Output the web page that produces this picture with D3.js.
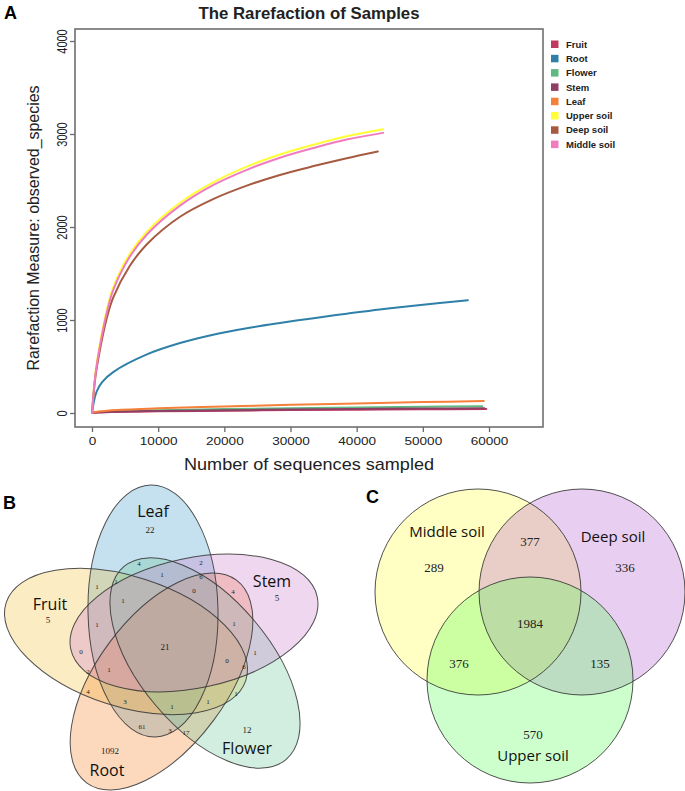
<!DOCTYPE html>
<html>
<head>
<meta charset="utf-8">
<style>
  body { margin: 0; background: #fff; }
  svg { display: block; }
  text { font-family: "Liberation Sans", Arial, sans-serif; fill: #222; }
  .curve { fill: none; stroke-width: 2px; stroke-linecap: round; }
  .tick line { stroke: #6a6a6a; stroke-width: 1.3px; }
  .frame { fill: none; stroke: #6e6e6e; stroke-width: 1.6px; }
  .set-name { font-family: "Open Sans", "Noto Sans", sans-serif; fill: #111; }
  .count { font-family: "Liberation Serif", "DejaVu Serif", serif; fill: #222; }
  .panel { font-weight: bold; font-size: 18px; fill: #000; }
</style>
</head>
<body>
<svg id="fig" width="685" height="791"></svg>
<script src="https://d3js.org/d3.v7.min.js"></script>
<script>
// ---------- panel A : rarefaction curves ----------
var sampleNames  = ["Fruit", "Root", "Flower", "Stem", "Leaf", "Upper soil", "Deep soil", "Middle soil"];
var sampleColors = ["#bf3a5f", "#2f80a8", "#5dba80", "#8f3f66", "#f5803a", "#ffff33", "#a65a40", "#f07cbf"];

// sequences sampled / observed species
var fruitDepth  = [0, 1000, 3000, 10000, 20000, 30000, 40000, 50000, 59600];
var fruitObs    = [0, 6, 11, 18, 25, 31, 36, 40, 44];
var rootDepth   = [0, 300, 700, 1500, 3200, 8300, 13300, 18300, 23400, 28400, 33500, 38500, 43500, 48600, 56800];
var rootObs     = [0, 130, 230, 330, 440, 630, 752, 842, 912, 968, 1020, 1068, 1114, 1154, 1212];
var flowerDepth = [0, 1000, 3000, 10000, 20000, 30000, 40000, 50000, 59000];
var flowerObs   = [0, 10, 18, 30, 42, 52, 60, 67, 72];
var stemDepth   = [0, 1000, 3000, 10000, 20000, 30000, 40000, 50000, 59300];
var stemObs     = [0, 8, 14, 22, 30, 37, 43, 48, 52];
var leafDepth   = [0, 1000, 3000, 10000, 20000, 30000, 40000, 50000, 59200];
var leafObs     = [0, 15, 30, 50, 70, 88, 103, 117, 129];
var upperDepth  = [0, 500, 1200, 2200, 3200, 5700, 8300, 13300, 18300, 23400, 28400, 33500, 38500, 44000];
var upperObs    = [0, 420, 750, 1100, 1350, 1710, 1950, 2260, 2480, 2650, 2780, 2885, 2975, 3050];
var deepDepth   = [0, 500, 1200, 2200, 3200, 5700, 8300, 13300, 18300, 23400, 28400, 33500, 38500, 43200];
var deepObs     = [0, 380, 680, 1010, 1240, 1580, 1815, 2110, 2300, 2445, 2560, 2655, 2740, 2812];
var middleDepth = [0, 500, 1200, 2200, 3200, 5700, 8300, 13300, 18300, 23400, 28400, 33500, 38500, 44000];
var middleObs   = [0, 400, 720, 1070, 1320, 1680, 1920, 2230, 2450, 2615, 2745, 2850, 2940, 3012];

var xTicks = [0, 10000, 20000, 30000, 40000, 50000, 60000];
var yTicks = [0, 1000, 2000, 3000, 4000];

// ---------- panel B : five-set venn ----------
var organNames  = ["Leaf", "Fruit", "Root", "Flower", "Stem"];
var organFills  = ["#3e98c6", "#f2c03a", "#f58023", "#69c698", "#cd7acd"];
// region counts (unique to each organ first, then shared regions)
var organCounts = [22, 5, 1092, 12, 5, 21, 4, 2, 1, 6, 1, 1, 0, 4, 1, 1, 1, 0, 0, 1, 6, 1, 2, 4, 3, 1, 1, 1, 61, 3, 17];

// ---------- panel C : three-set venn ----------
var soilNames  = ["Middle soil", "Deep soil", "Upper soil"];
var soilFills  = ["#ffff37", "#b25ccd", "#55ff55"];
// only Middle, only Deep, only Upper, Middle&Deep, Middle&Upper, Deep&Upper, all three
var soilCounts = [289, 336, 570, 377, 376, 135, 1984];

var svg = d3.select("#fig");

// ===== panel A =====
var frame = { left: 75, top: 29, right: 543, bottom: 427 };
var x = d3.scaleLinear().domain([0, 60000]).range([92, 489]);
var y = d3.scaleLinear().domain([0, 4000]).range([413, 41]);

svg.append("text").attr("class", "panel").attr("x", 4).attr("y", 19).text("A");
svg.append("text")
    .attr("x", (frame.left + frame.right) / 2).attr("y", 19)
    .attr("text-anchor", "middle")
    .style("font-size", "16.5px").style("font-weight", "bold")
    .attr("textLength", 221).attr("lengthAdjust", "spacingAndGlyphs")
    .text("The Rarefaction of Samples");

var series = [
    { depth: fruitDepth,  obs: fruitObs },
    { depth: rootDepth,   obs: rootObs },
    { depth: flowerDepth, obs: flowerObs },
    { depth: stemDepth,   obs: stemObs },
    { depth: leafDepth,   obs: leafObs },
    { depth: upperDepth,  obs: upperObs },
    { depth: deepDepth,   obs: deepObs },
    { depth: middleDepth, obs: middleObs }
];
series.forEach(function(s, i) { s.name = sampleNames[i]; s.color = sampleColors[i]; });

var line = d3.line()
    .x(function(d) { return x(d[0]); })
    .y(function(d) { return y(d[1]); })
    .curve(d3.curveCatmullRom.alpha(0.5));

svg.append("g").selectAll("path")
    .data(series)
    .join("path")
    .attr("class", "curve")
    .attr("stroke", function(d) { return d.color; })
    .attr("d", function(d) { return line(d3.zip(d.depth, d.obs)); });

svg.append("rect").attr("class", "frame")
    .attr("x", frame.left).attr("y", frame.top)
    .attr("width", frame.right - frame.left).attr("height", frame.bottom - frame.top);

var gx = svg.append("g")
    .attr("transform", "translate(0," + frame.bottom + ")")
    .call(d3.axisBottom(x).tickValues(xTicks).tickSize(5).tickPadding(4.5).tickFormat(d3.format("d")));
gx.attr("font-size", null).attr("font-family", null);
gx.select(".domain").remove();
gx.selectAll("text").style("font-size", "11.8px").attr("fill", "#222")
    .attr("transform", "scale(1.15,1)");

var gy = svg.append("g")
    .attr("transform", "translate(" + frame.left + ",0)")
    .call(d3.axisLeft(y).tickValues(yTicks).tickSize(5).tickFormat(d3.format("d")));
gy.attr("font-size", null).attr("font-family", null);
gy.select(".domain").remove();
gy.selectAll("text")
    .attr("x", 0).attr("y", -6.2).attr("dy", 0)
    .attr("text-anchor", "middle").attr("fill", "#222")
    .attr("transform", "rotate(-90) scale(1,1.3)")
    .style("font-size", "11px");

svg.append("text")
    .attr("x", (frame.left + frame.right) / 2).attr("y", 470)
    .attr("text-anchor", "middle").style("font-size", "17px")
    .attr("textLength", 250).attr("lengthAdjust", "spacingAndGlyphs")
    .text("Number of sequences sampled");

svg.append("text")
    .attr("transform", "translate(39," + ((frame.top + frame.bottom) / 2) + ") rotate(-90)")
    .attr("text-anchor", "middle").style("font-size", "17px")
    .attr("textLength", 285).attr("lengthAdjust", "spacingAndGlyphs")
    .text("Rarefaction Measure: observed_species");

var legend = svg.append("g").selectAll("g")
    .data(series)
    .join("g")
    .attr("transform", function(d, i) { return "translate(551," + (40.5 + i * 14.3) + ")"; });
legend.append("rect")
    .attr("width", 7.5).attr("height", 7.5)
    .attr("fill", function(d) { return d.color; });
legend.append("text")
    .attr("x", 15).attr("y", 3.8).attr("dy", "0.35em")
    .style("font-size", "9.5px").style("font-weight", "bold")
    .text(function(d) { return d.name; });

// ===== panel B =====
// ellipse geometry of each organ (centre, half axes, tilt in degrees)
var organShapes = [
    { cx: 153,   cy: 611,   rx: 126, ry: 65, rot: 89 },
    { cx: 126,   cy: 641.5, rx: 126, ry: 65, rot: 18 },
    { cx: 161.5, cy: 681.5, rx: 126, ry: 65, rot: -53.5 },
    { cx: 205,   cy: 663,   rx: 126, ry: 65, rot: 50 },
    { cx: 194,   cy: 623,   rx: 126, ry: 65, rot: -12 }
];
var organNameSpots = [[153, 517], [50, 610], [107, 776], [247, 754], [272, 587]];
var organCountSpots = [
    [150, 530], [48, 620], [110, 751], [247, 730], [277, 598],
    [165, 647], [139, 564], [201, 563], [162, 575], [201, 577],
    [97, 587], [116, 582], [194, 591], [233, 592], [123, 601],
    [97, 625], [234, 624], [81, 652], [227, 661], [255, 653],
    [244, 667], [109, 670], [88, 672], [88, 692], [125, 702],
    [172, 707], [208, 702], [236, 694], [142, 727], [170, 731], [186, 733]
];

svg.append("text").attr("class", "panel").attr("x", 3).attr("y", 509).text("B");

var gB = svg.append("g");
var organs = organNames.map(function(n, i) {
    return Object.assign({ name: n, fill: organFills[i] }, organShapes[i]);
});
gB.selectAll("ellipse.fillB")
    .data(organs)
    .join("ellipse")
    .attr("class", "fillB")
    .attr("cx", function(d) { return d.cx; }).attr("cy", function(d) { return d.cy; })
    .attr("rx", function(d) { return d.rx; }).attr("ry", function(d) { return d.ry; })
    .attr("transform", function(d) { return "rotate(" + d.rot + "," + d.cx + "," + d.cy + ")"; })
    .attr("fill", function(d) { return d.fill; })
    .attr("fill-opacity", 0.3);
gB.selectAll("ellipse.edgeB")
    .data(organs)
    .join("ellipse")
    .attr("class", "edgeB")
    .attr("cx", function(d) { return d.cx; }).attr("cy", function(d) { return d.cy; })
    .attr("rx", function(d) { return d.rx; }).attr("ry", function(d) { return d.ry; })
    .attr("transform", function(d) { return "rotate(" + d.rot + "," + d.cx + "," + d.cy + ")"; })
    .attr("fill", "none").attr("stroke", "#333").attr("stroke-opacity", 0.85).attr("stroke-width", 1);

gB.selectAll("text.set-name")
    .data(organNames)
    .join("text")
    .attr("class", "set-name")
    .attr("x", function(d, i) { return organNameSpots[i][0]; })
    .attr("y", function(d, i) { return organNameSpots[i][1]; })
    .attr("text-anchor", "middle").style("font-size", "16px")
    .text(function(d) { return d; });

gB.selectAll("text.count")
    .data(organCounts)
    .join("text")
    .attr("class", "count")
    .attr("x", function(d, i) { return organCountSpots[i][0]; })
    .attr("y", function(d, i) { return organCountSpots[i][1]; })
    .attr("dy", "0.35em").attr("text-anchor", "middle")
    .style("font-size", function(d, i) { return i < 6 ? "9px" : "7px"; })
    .text(function(d) { return d; });

// ===== panel C =====
var soilShapes = [ { cx: 478, cy: 592, r: 103 }, { cx: 582, cy: 592, r: 103 }, { cx: 530, cy: 680, r: 103 } ];
var soilNameSpots = [[447, 537], [613, 542], [533, 761]];
var soilCountSpots = [[434, 567], [625, 567], [533, 734], [530, 541], [459, 663], [600, 663], [530, 623]];

svg.append("text").attr("class", "panel").attr("x", 366).attr("y", 503).text("C");

var gC = svg.append("g");
var soils = soilNames.map(function(n, i) {
    return Object.assign({ name: n, fill: soilFills[i] }, soilShapes[i]);
});
gC.selectAll("circle.fillC")
    .data(soils)
    .join("circle")
    .attr("class", "fillC")
    .attr("cx", function(d) { return d.cx; }).attr("cy", function(d) { return d.cy; })
    .attr("r", function(d) { return d.r; })
    .attr("fill", function(d) { return d.fill; })
    .attr("fill-opacity", 0.3);
gC.selectAll("circle.edgeC")
    .data(soils)
    .join("circle")
    .attr("class", "edgeC")
    .attr("cx", function(d) { return d.cx; }).attr("cy", function(d) { return d.cy; })
    .attr("r", function(d) { return d.r; })
    .attr("fill", "none").attr("stroke", "#333").attr("stroke-opacity", 0.85).attr("stroke-width", 1);

gC.selectAll("text.set-name")
    .data(soils)
    .join("text")
    .attr("class", "set-name")
    .attr("x", function(d, i) { return soilNameSpots[i][0]; })
    .attr("y", function(d, i) { return soilNameSpots[i][1]; })
    .attr("text-anchor", "middle").style("font-size", "15px")
    .text(function(d) { return d.name; });

gC.selectAll("text.count")
    .data(soilCounts)
    .join("text")
    .attr("class", "count")
    .attr("x", function(d, i) { return soilCountSpots[i][0]; })
    .attr("y", function(d, i) { return soilCountSpots[i][1]; })
    .attr("dy", "0.35em").attr("text-anchor", "middle")
    .style("font-size", "13px")
    .text(function(d) { return d; });
</script>
</body>
</html>
